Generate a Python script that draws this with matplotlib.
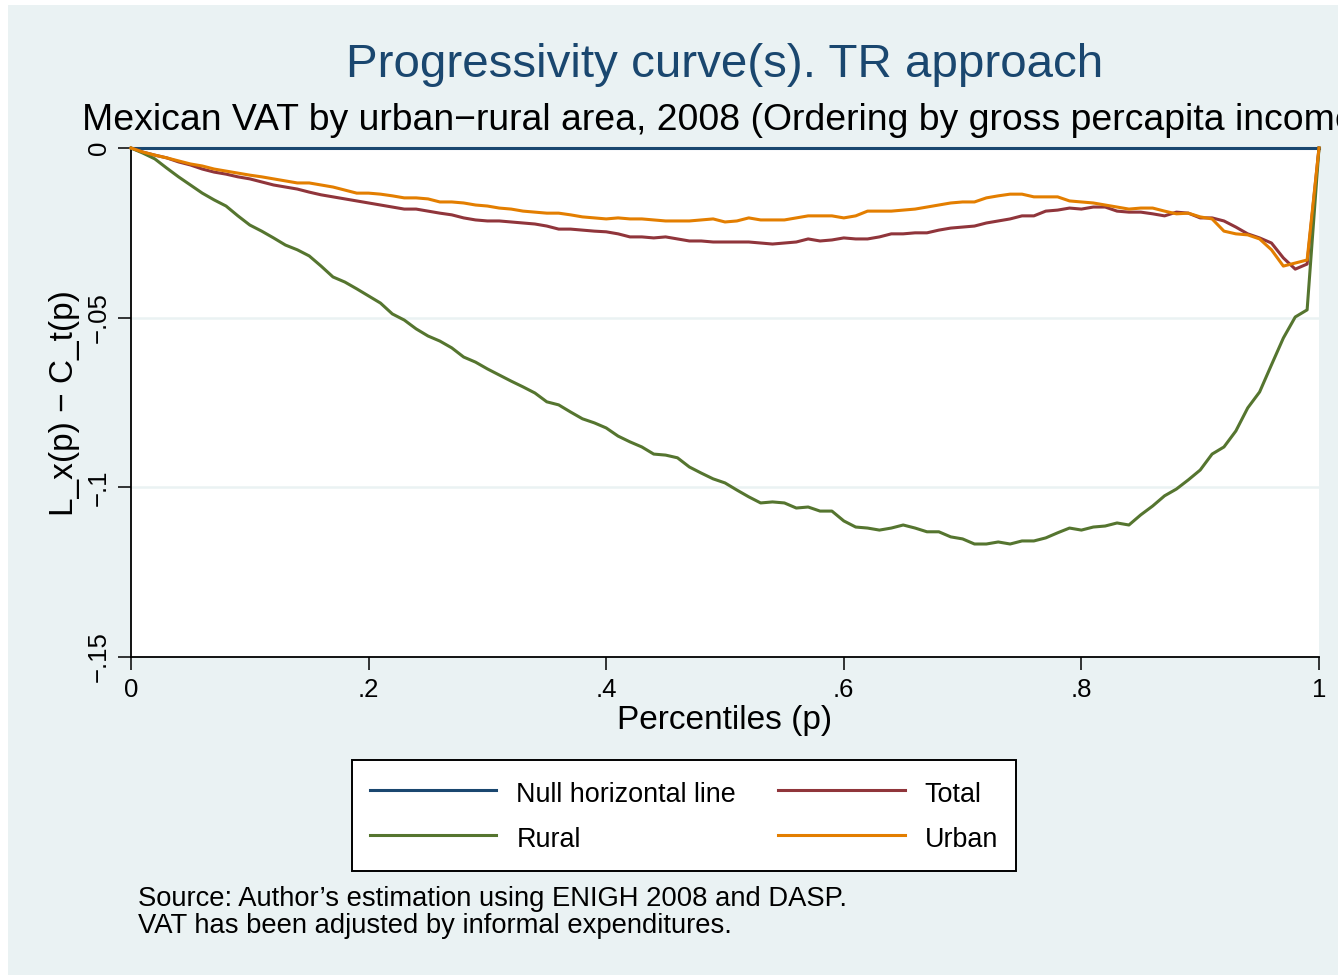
import numpy as np
import matplotlib
matplotlib.use("Agg")
import matplotlib.pyplot as plt
from matplotlib.patches import Rectangle

plt.rcParams['font.family'] = ['Liberation Sans', 'DejaVu Sans']

# ---------------- data ----------------
percentiles = [k / 100 for k in range(101)]

rural = [0, -0.0015, -0.0032, -0.0059, -0.0085, -0.0109, -0.0133, -0.0153, -0.0171, -0.0200,
         -0.0227, -0.0245, -0.0265, -0.0286, -0.0300, -0.0318, -0.0348, -0.0380, -0.0395, -0.0415,
         -0.0436, -0.0457, -0.0489, -0.0507, -0.0533, -0.0554, -0.0569, -0.0589, -0.0616, -0.0631,
         -0.0651, -0.0669, -0.0687, -0.0704, -0.0722, -0.0748, -0.0757, -0.0778, -0.0798, -0.0810,
         -0.0825, -0.0849, -0.0866, -0.0881, -0.0902, -0.0905, -0.0913, -0.0940, -0.0958, -0.0975,
         -0.0987, -0.1008, -0.1028, -0.1046, -0.1043, -0.1046, -0.1061, -0.1058, -0.1070, -0.1070,
         -0.1099, -0.1117, -0.1120, -0.1126, -0.1120, -0.1111, -0.1120, -0.1131, -0.1131, -0.1146,
         -0.1152, -0.1167, -0.1167, -0.1161, -0.1167, -0.1158, -0.1158, -0.1149, -0.1134, -0.1120,
         -0.1126, -0.1117, -0.1114, -0.1105, -0.1111, -0.1081, -0.1055, -0.1025, -0.1005, -0.0978,
         -0.0949, -0.0902, -0.0881, -0.0834, -0.0766, -0.0719, -0.0639, -0.0560, -0.0498, -0.0477,
         0]

total = [0, -0.0012, -0.0021, -0.0029, -0.0041, -0.0050, -0.0062, -0.0071, -0.0077, -0.0085,
         -0.0091, -0.0100, -0.0109, -0.0115, -0.0121, -0.0130, -0.0138, -0.0144, -0.0150, -0.0156,
         -0.0162, -0.0168, -0.0174, -0.0180, -0.0180, -0.0186, -0.0192, -0.0197, -0.0206, -0.0212,
         -0.0215, -0.0215, -0.0218, -0.0221, -0.0224, -0.0230, -0.0239, -0.0239, -0.0242, -0.0245,
         -0.0247, -0.0253, -0.0262, -0.0262, -0.0265, -0.0262, -0.0268, -0.0274, -0.0274, -0.0277,
         -0.0277, -0.0277, -0.0277, -0.0280, -0.0283, -0.0280, -0.0277, -0.0268, -0.0274, -0.0271,
         -0.0265, -0.0268, -0.0268, -0.0262, -0.0253, -0.0253, -0.0250, -0.0250, -0.0242, -0.0236,
         -0.0233, -0.0230, -0.0221, -0.0215, -0.0209, -0.0200, -0.0200, -0.0186, -0.0183, -0.0177,
         -0.0180, -0.0174, -0.0174, -0.0186, -0.0189, -0.0189, -0.0194, -0.0200, -0.0189, -0.0192,
         -0.0206, -0.0206, -0.0215, -0.0233, -0.0253, -0.0265, -0.0280, -0.0324, -0.0357, -0.0342,
         0]

urban = [0, -0.0012, -0.0021, -0.0029, -0.0038, -0.0047, -0.0053, -0.0062, -0.0068, -0.0074,
         -0.0080, -0.0085, -0.0091, -0.0097, -0.0103, -0.0103, -0.0109, -0.0115, -0.0124, -0.0133,
         -0.0133, -0.0136, -0.0141, -0.0147, -0.0147, -0.0150, -0.0159, -0.0159, -0.0162, -0.0168,
         -0.0171, -0.0177, -0.0180, -0.0186, -0.0189, -0.0192, -0.0192, -0.0197, -0.0203, -0.0206,
         -0.0209, -0.0206, -0.0209, -0.0209, -0.0212, -0.0215, -0.0215, -0.0215, -0.0212, -0.0209,
         -0.0218, -0.0215, -0.0206, -0.0212, -0.0212, -0.0212, -0.0206, -0.0200, -0.0200, -0.0200,
         -0.0206, -0.0200, -0.0186, -0.0186, -0.0186, -0.0183, -0.0180, -0.0174, -0.0168, -0.0162,
         -0.0159, -0.0159, -0.0147, -0.0141, -0.0136, -0.0136, -0.0144, -0.0144, -0.0144, -0.0156,
         -0.0159, -0.0162, -0.0168, -0.0174, -0.0180, -0.0177, -0.0177, -0.0186, -0.0194, -0.0192,
         -0.0203, -0.0209, -0.0245, -0.0253, -0.0256, -0.0268, -0.0300, -0.0348, -0.0339, -0.0330,
         0]

null_line = [0 for _ in percentiles]

x_ticks = [0, 0.2, 0.4, 0.6, 0.8, 1.0]
x_tick_labels = ["0", ".2", ".4", ".6", ".8", "1"]
y_ticks = [0, -0.05, -0.10, -0.15]
y_tick_labels = ["0", "\u2212.05", "\u2212.1", "\u2212.15"]

title = "Progressivity curve(s). TR approach"
subtitle = "Mexican VAT by urban\u2212rural area, 2008 (Ordering by gross percapita income)"
xlabel = "Percentiles (p)"
ylabel = "L_x(p) \u2212 C_t(p)"
notes = ["Source: Author\u2019s estimation using ENIGH 2008 and DASP.",
         "VAT has been adjusted by informal expenditures."]

# ---------------- styles ----------------
NAVY = "#1a476f"
MAROON = "#90353b"
GREEN = "#55752f"
ORANGE = "#e37e00"
BG = "#eaf2f3"

W, H = 1338, 975
fig = plt.figure(figsize=(W / 100, H / 100), dpi=100, facecolor="white")
fig.patches.append(Rectangle((8 / W, 0), 1, 1 - 5 / H, transform=fig.transFigure,
                             facecolor=BG, edgecolor="none", zorder=-10))

def fx(px):
    return px / W

def fy(py):
    return 1 - py / H

ax = fig.add_axes([fx(131), fy(657), fx(1319) - fx(131), fy(148) - fy(657)])
ax.set_facecolor("white")
ax.set_xlim(0, 1)
ax.set_ylim(-0.15, 0)

for s in ["top", "right"]:
    ax.spines[s].set_visible(False)
for s in ["left", "bottom"]:
    ax.spines[s].set_color("black")
    ax.spines[s].set_linewidth(1.3)

for gy in [-0.05, -0.10]:
    ax.axhline(gy, color=BG, lw=1.8, zorder=0)

lw = 2.2
h_null, = ax.plot(percentiles, null_line, color=NAVY, lw=lw, clip_on=False, zorder=3,
                  label="Null horizontal line")
h_total, = ax.plot(percentiles, total, color=MAROON, lw=lw, clip_on=False, zorder=4, label="Total")
h_rural, = ax.plot(percentiles, rural, color=GREEN, lw=lw, clip_on=False, zorder=4, label="Rural")
h_urban, = ax.plot(percentiles, urban, color=ORANGE, lw=lw, clip_on=False, zorder=5, label="Urban")

ax.set_xticks(x_ticks)
ax.set_xticklabels(x_tick_labels)
ax.set_yticks(y_ticks)
ax.set_yticklabels(y_tick_labels, rotation=90, va="center")
ax.tick_params(axis="both", direction="out", length=9.5, width=1.1, color="black",
               labelsize=18.5, labelcolor="black")
ax.tick_params(axis="x", pad=5.5)
ax.tick_params(axis="y", pad=5)

fig.text(fx(725), fy(65), title, ha="center", va="center", fontsize=34.2, color=NAVY)
fig.text(fx(725), fy(120), subtitle, ha="center", va="center", fontsize=26.9, color="black")
fig.text(fx(725), fy(721), xlabel, ha="center", va="center", fontsize=24, color="black")
fig.text(fx(64), fy(403), ylabel, ha="center", va="center", rotation=90, fontsize=24, color="black")
fig.text(fx(138), fy(899), notes[0], ha="left", va="center", fontsize=19.7, color="black")
fig.text(fx(138), fy(926), notes[1], ha="left", va="center", fontsize=19.7, color="black")

leg = fig.legend([h_null, h_rural, h_total, h_urban],
                 ["Null horizontal line", "Rural", "Total", "Urban"],
                 ncol=2, loc="upper left", bbox_to_anchor=(fx(352), fy(760)),
                 bbox_transform=fig.transFigure, borderaxespad=0,
                 fontsize=19.4, handlelength=4.7, handleheight=1.35, handletextpad=0.74,
                 columnspacing=1.55, borderpad=0.66, labelspacing=0.55,
                 fancybox=False, frameon=True)
leg.get_frame().set_edgecolor("black")
leg.get_frame().set_linewidth(1.4)
leg.get_frame().set_facecolor("white")
leg.get_frame().set_alpha(1)

fig.savefig("out.png", dpi=100, facecolor="white")
